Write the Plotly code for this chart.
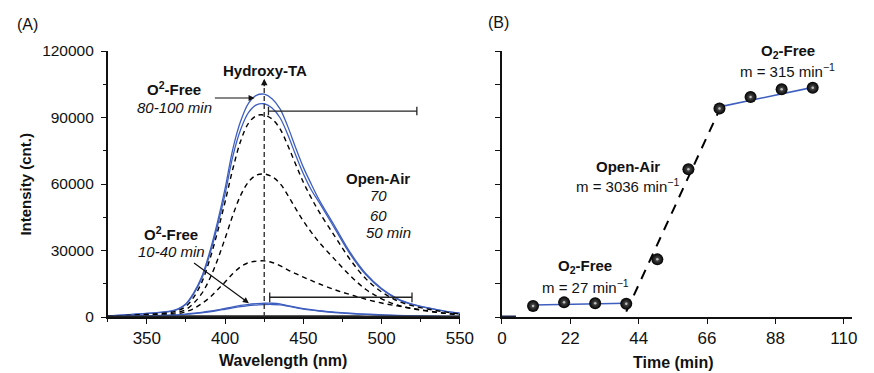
import plotly.graph_objects as go

# ---------------- data ----------------
wavelength = [325, 335, 345, 355, 365, 370, 375, 380, 385, 390, 395, 400, 405, 410, 415,
              420, 425, 430, 435, 440, 445, 450, 455, 460, 470, 480, 490, 500, 510, 520,
              530, 540, 550]

o2free_100 = [500, 900, 1400, 1900, 2600, 3700, 6000, 11000, 18000, 29000, 42500, 58000, 76000,
              88500, 96500, 100000, 100500, 98500, 94000, 86000, 76500, 67500, 60000, 53000,
              41000, 29000, 19500, 12800, 8300, 5700, 4100, 2700, 1700]
o2free_80 = [480, 870, 1350, 1850, 2500, 3550, 5750, 10500, 17200, 27800, 40700, 55500, 72700,
             84700, 92300, 95700, 96200, 94300, 90000, 82300, 73200, 64600, 57400, 51800,
             40000, 28300, 19000, 12500, 8100, 5550, 4000, 2650, 1650]
openair_70 = [300, 600, 1000, 1400, 2000, 2900, 4800, 9000, 15500, 25500, 38000, 52000, 67000,
              79500, 87500, 90800, 91100, 89300, 85000, 77500, 69000, 60800, 53800, 47500,
              36500, 25800, 17200, 11300, 7300, 5000, 3500, 2300, 1400]
openair_60 = [250, 450, 700, 1000, 1500, 2100, 3400, 6300, 10500, 17000, 25500, 35500, 46000,
              55000, 61000, 64000, 64500, 63300, 60300, 55000, 49000, 43300, 38300, 33800,
              26000, 18600, 12400, 8200, 5400, 3700, 2600, 1700, 1000]
openair_50 = [200, 300, 450, 650, 1000, 1500, 2400, 3800, 6000, 8700, 12200, 15800, 19600,
              22700, 24500, 25200, 25300, 24600, 23200, 21300, 19600, 18000, 16500, 15000,
              12300, 10100, 8000, 6300, 5000, 3800, 2700, 1700, 900]
o2free_40 = [300, 400, 500, 650, 850, 1000, 1300, 1700, 2100, 2600, 3200, 3900, 4600, 5200,
             5700, 6000, 6200, 6200, 5900, 5100, 4400, 3800, 3300, 2900, 2200, 1700, 1300,
             1000, 750, 550, 400, 300, 250]
o2free_10 = [270, 360, 450, 580, 760, 900, 1150, 1500, 1850, 2300, 2850, 3500, 4150, 4700,
             5150, 5400, 5600, 5650, 5500, 4900, 4200, 3600, 3100, 2700, 2000, 1500, 1150,
             900, 650, 480, 350, 260, 220]
baseline_0 = [250, 250, 260, 260, 270, 280, 290, 310, 330, 350, 370, 380, 390, 390, 390,
              390, 380, 370, 360, 350, 340, 330, 320, 310, 300, 290, 280, 270, 260, 250,
              240, 230, 220]

time_min = [10, 20, 30, 40, 50, 60, 70, 80, 90, 100]
intensity = [5000, 6600, 6200, 6000, 26000, 66700, 94100, 99200, 102700, 103400]

fit_free1_t = [10, 40]
fit_free1_y = [5400, 6200]
fit_air_t = [40, 70]
fit_air_y = [2400, 93500]
fit_free2_t = [70, 100]
fit_free2_y = [94800, 103600]

xticks_a = [350, 400, 450, 500, 550]
yticks_a = [0, 30000, 60000, 90000, 120000]
xticks_b = [0, 22, 44, 66, 88, 110]

# ---------------- styling ----------------
FONT = "Liberation Sans, Arial, Helvetica, sans-serif"
BLUE = "#3f5fbf"
W, H = 874, 373
TOP, BOT = 51, 317


def paper(px, py):
    return px / W, (BOT - py) / (BOT - TOP)


fig = go.Figure()

# Panel A spectra
for ys in (o2free_100, o2free_80):
    fig.add_trace(go.Scatter(x=wavelength, y=ys, mode="lines", line=dict(color=BLUE, width=1.3, shape="spline"),
                             xaxis="x", yaxis="y", hoverinfo="skip", showlegend=False))
for ys in (openair_70, openair_60, openair_50):
    fig.add_trace(go.Scatter(x=wavelength, y=ys, mode="lines",
                             line=dict(color="black", width=1.4, dash="5px,4px", shape="spline"),
                             xaxis="x", yaxis="y", hoverinfo="skip", showlegend=False))
for ys in (o2free_40, o2free_10):
    fig.add_trace(go.Scatter(x=wavelength, y=ys, mode="lines", line=dict(color=BLUE, width=1.3, shape="spline"),
                             xaxis="x", yaxis="y", hoverinfo="skip", showlegend=False))
fig.add_trace(go.Scatter(x=wavelength, y=baseline_0, mode="lines", line=dict(color="#222", width=2, shape="spline"),
                         xaxis="x", yaxis="y", hoverinfo="skip", showlegend=False))

# vertical dashed marker at peak
fig.add_trace(go.Scatter(x=[425, 425], y=[0, 104500], mode="lines",
                         line=dict(color="#333", width=1.4, dash="5px,3px"),
                         xaxis="x", yaxis="y", hoverinfo="skip", showlegend=False))

# Panel B
fig.add_trace(go.Scatter(x=[0, 4.5], y=[0, 0], mode="lines", line=dict(color="#1a2240", width=3),
                         xaxis="x2", yaxis="y2", hoverinfo="skip", showlegend=False))
fig.add_trace(go.Scatter(x=fit_free1_t, y=fit_free1_y, mode="lines", line=dict(color=BLUE, width=1.6),
                         xaxis="x2", yaxis="y2", hoverinfo="skip", showlegend=False))
fig.add_trace(go.Scatter(x=fit_free2_t, y=fit_free2_y, mode="lines", line=dict(color=BLUE, width=1.6),
                         xaxis="x2", yaxis="y2", hoverinfo="skip", showlegend=False))
fig.add_trace(go.Scatter(x=fit_air_t, y=fit_air_y, mode="lines",
                         line=dict(color="black", width=2, dash="10px,8px"),
                         xaxis="x2", yaxis="y2", hoverinfo="skip", showlegend=False))
fig.add_trace(go.Scatter(x=time_min, y=intensity, mode="markers",
                         marker=dict(size=12, color="#000000", line=dict(width=0),
                                     gradient=dict(type="radial", color="#5a5a5a")),
                         xaxis="x2", yaxis="y2", hoverinfo="skip", showlegend=False))
fig.add_trace(go.Scatter(x=time_min, y=intensity, mode="markers",
                         marker=dict(size=2.5, color="#bdbdbd", line=dict(width=0)),
                         xaxis="x2", yaxis="y2", hoverinfo="skip", showlegend=False))

# ---------------- shapes (brackets) ----------------
shapes = []
for (x0, x1, yv, cap) in [(427.7, 522.5, 92900, 1900), (428.5, 519.4, 8900, 2200)]:
    shapes.append(dict(type="line", xref="x", yref="y", x0=x0, x1=x1, y0=yv, y1=yv,
                       line=dict(color="#222", width=1.3)))
    for xc in (x0, x1):
        shapes.append(dict(type="line", xref="x", yref="y", x0=xc, x1=xc, y0=yv - cap, y1=yv + cap,
                           line=dict(color="#222", width=1.3)))

# ---------------- annotations ----------------
ann = []


def txt(x, y, text, size=15, xref="x", yref="y", angle=0, xanchor="center"):
    ann.append(dict(x=x, y=y, xref=xref, yref=yref, text=text, showarrow=False, textangle=angle,
                    font=dict(family=FONT, size=size, color="#111"), xanchor=xanchor, yanchor="middle"))


# panel A texts
txt(367.5, 103300, "<b>O<sup>2</sup>-Free</b>")
txt(367.5, 94700, "<i>80-100 min</i>")
txt(425.6, 111400, "<b>Hydroxy-TA</b>")
txt(497.8, 62700, "<b>Open-Air</b>")
txt(497.9, 54600, "<i>70</i>")
txt(497.9, 46000, "<i>60</i>")
txt(504.2, 37900, "<i>50 min</i>")
txt(365.6, 37800, "<b>O<sup>2</sup>-Free</b>")
txt(365.6, 29500, "<i>10-40 min</i>")

# panel B texts
txt(91.9, 119700, "<b>O<sub>2</sub>-Free</b>", xref="x2", yref="y2")
txt(91.9, 111100, "m = 315 min<sup>−1</sup>", xref="x2", yref="y2")
txt(40.5, 67800, "<b>Open-Air</b>", xref="x2", yref="y2")
txt(40.5, 59500, "m = 3036 min<sup>−1</sup>", xref="x2", yref="y2")
txt(26.8, 22600, "<b>O<sub>2</sub>-Free</b>", xref="x2", yref="y2")
txt(26.8, 13700, "m = 27 min<sup>−1</sup>", xref="x2", yref="y2")

# outside texts
px, py = paper(23, 25)
txt(px, py, "(A)", size=16, xref="paper", yref="paper")
px, py = paper(504, 23)
txt(px, py, "(B)", size=16, xref="paper", yref="paper")
px, py = paper(20, 184)
txt(px, py, "<b>Intensity (cnt.)</b>", size=15, xref="paper", yref="paper", angle=-90)
px, py = paper(284, 361)
txt(px, py, "<b>Wavelength (nm)</b>", size=16, xref="paper", yref="paper")
px, py = paper(683, 362)
txt(px, py, "<b>Time (min)</b>", size=16, xref="paper", yref="paper")

# arrows
ann.append(dict(x=425, y=107500, xref="x", yref="y", ax=0, ay=9, axref="pixel", ayref="pixel",
                showarrow=True, arrowhead=2, arrowsize=1, arrowwidth=1.3, arrowcolor="#111", text=""))
ann.append(dict(x=418.8, y=98800, xref="x", yref="y", ax=392.5, ay=98800, axref="x", ayref="y",
                showarrow=True, arrowhead=2, arrowsize=1, arrowwidth=1.2, arrowcolor="#111", text=""))
ann.append(dict(x=415.2, y=6200, xref="x", yref="y", ax=379.2, ay=24900, axref="x", ayref="y",
                showarrow=True, arrowhead=2, arrowsize=1, arrowwidth=1.2, arrowcolor="#111", text=""))

axis_common = dict(showline=True, linecolor="#111", ticks="outside", tickcolor="#111", ticklen=5,
                   tickwidth=1.2, showgrid=False, zeroline=False)
xfont = dict(family=FONT, size=17, color="#111")
yfont = dict(family=FONT, size=15.5, color="#111")

fig.update_layout(
    width=W, height=H, margin=dict(l=0, r=0, t=TOP, b=H - BOT),
    paper_bgcolor="white", plot_bgcolor="white", showlegend=False,
    font=dict(family=FONT),
    xaxis=dict(domain=[105 / W, 465 / W], range=[325, 550], tickvals=xticks_a, anchor="y",
               linewidth=2, tickfont=xfont,
               minor=dict(dtick=25, tick0=325, ticks="outside", ticklen=3, tickcolor="#111"),
               **axis_common),
    yaxis=dict(domain=[0, 1], range=[0, 120000], tickvals=yticks_a, anchor="x", linewidth=1.5,
               tickformat="d", tickfont=yfont, ticklabelstandoff=4,
               minor=dict(dtick=15000, ticks="outside", ticklen=3, tickcolor="#111"), **axis_common),
    xaxis2=dict(domain=[508 / W, 866 / W], range=[0, 112.7], tickvals=xticks_b, anchor="y2",
                linewidth=2, tickfont=xfont, **axis_common),
    yaxis2=dict(domain=[0, 1], range=[0, 120000], dtick=15000, anchor="x2", showticklabels=False,
                linewidth=1.5, **axis_common),
    shapes=shapes, annotations=ann,
)

fig.write_html("out.html", config={"displayModeBar": False},
               post_script="document.body.style.margin='0';document.body.style.padding='0';")
